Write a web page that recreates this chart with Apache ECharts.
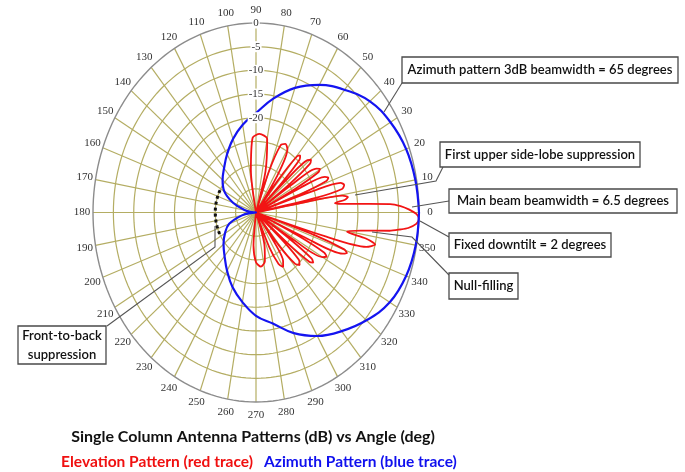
<!DOCTYPE html>
<html>
<head>
<meta charset="utf-8">
<script src="https://cdn.jsdelivr.net/npm/echarts@6/dist/echarts.min.js"></script>
<style>
  html, body { margin: 0; padding: 0; background: #ffffff; }
  #chart { width: 685px; height: 472px; }
</style>
</head>
<body>
<div id="chart"></div>
<script>
// ---- polar frame ----
const angleTicks = [0, 10, 20, 30, 40, 50, 60, 70, 80, 90, 100, 110, 120, 130, 140, 150, 160, 170,
                    180, 190, 200, 210, 220, 230, 240, 250, 260, 270, 280, 290, 300, 310, 320, 330, 340, 350];
const ringLevels = [-35, -30, -25, -20, -15, -10, -5];
const outerLevel = 0;
const floorLevel = -40;
const radialLabels = [0, -5, -10, -15, -20];

// ---- azimuth pattern (dB) ----
const azAngles = [0, 10, 20, 30, 40, 50, 60, 70, 80, 90, 100, 110, 120, 130, 140, 150, 160, 170, 175,
                  180, 185, 190, 200, 210, 220, 230, 240, 250, 260, 270, 280, 290, 300, 310, 320, 330, 340, 350, 360];
const azGain = [0, -0.3, -0.8, -1.9, -3.5, -6.2, -8.9, -12.0, -15.6, -19.0, -21.2, -23.5, -25.8, -27.8, -29.3, -31.0, -34.0, -37.3, -39.0,
                -40, -39.0, -36.5, -33.0, -31.2, -29.6, -28.0, -25.8, -23.2, -20.8, -18.2, -16.2, -12.9, -9.9, -7.3, -4.6, -2.1, -0.8, -0.2, 0];

// ---- elevation pattern (dB) ----
const elAngles = [-100, -95, -90, -84, -78, -73, -69,
                  -66, -63, -60, -57, -54.5, -53,
                  -51, -48.5, -46, -43.5, -42, -41,
                  -40, -38.5, -37, -35.5, -34, -33,
                  -32, -30, -28.4, -26.8, -25.3, -24.5,
                  -23.7, -22.2, -21, -19.8, -18.4, -17.5,
                  -16.5, -15, -13, -11.5, -10.3,
                  -8.5, -6.7, -5.8, -5, -3.5, -2, -0.5, 1, 2.2, 3.1, 4, 5, 5.8,
                  7, 8.2, 9.5, 10.3, 11,
                  11.8, 13.2, 15, 16.8, 18, 18.7,
                  19.5, 21, 22.5, 24, 25.6, 26.5,
                  27.5, 29, 30.5, 32, 33.8, 35,
                  36, 37.8, 39.5, 41.2, 42.8, 43.8,
                  44.8, 46.3, 48, 49.7, 51.5, 53,
                  56, 60, 63.5, 67, 70, 72,
                  75, 80, 87, 93, 98, 100];
const elGain = [-40, -33, -29.5, -28.5, -29.5, -33, -40,
                -32, -27.8, -26.7, -27.8, -32, -40,
                -31, -25.5, -24.6, -25.5, -31, -40,
                -30, -23.2, -22.4, -23.2, -30, -40,
                -29, -21.2, -20.3, -21.2, -29, -40,
                -27, -17, -16.1, -17, -25, -40,
                -22, -12, -10, -12.5, -17.3,
                -14, -7, -4.5, -2.5, -0.6, 0, -0.6, -2.5, -4.5, -7, -14, -19, -20.5,
                -18, -17.2, -18.5, -25, -40,
                -25, -18.3, -17.6, -18.3, -25, -40,
                -28, -21.5, -20.8, -21.5, -28, -40,
                -29, -22.5, -21.8, -22.5, -29, -40,
                -30, -23.2, -22.5, -23.2, -30, -40,
                -31, -24.5, -23.8, -24.5, -31, -40,
                -31, -24.6, -23.8, -24.6, -31, -40,
                -31, -24.2, -23.4, -24.2, -31, -40];

// front-to-back marker arc
const fbArc = { from: 152, to: 207, level: -30 };

const gridColor = '#b4ad63';
const frameColor = '#8c8c8c';

// polar (angle in degrees, gain in dB) -> plane coordinates on the value axes
function toXY(angleDeg, dB) {
  const r = Math.max(0, dB - floorLevel);
  const t = angleDeg * Math.PI / 180;
  return [r * Math.cos(t), r * Math.sin(t)];
}

function ringRender(color, width) {
  return function (params, api) {
    const level = api.value(0);
    const pts = [];
    for (let a = 0; a <= 360; a += 2) pts.push(api.coord(toXY(a, level)));
    return { type: 'polyline', shape: { points: pts }, style: { stroke: color, lineWidth: width, fill: null } };
  };
}

const arcPts = [];
for (let a = fbArc.from; a <= fbArc.to; a += 1) arcPts.push(toXY(a, fbArc.level));

const chart = echarts.init(document.getElementById('chart'), null, { renderer: 'canvas' });

const labelFont = '"Liberation Serif", "DejaVu Serif", serif';
const noteFont = 'Lato, "Open Sans", sans-serif';

function noteBox(x, y, w, h, lines, fontSize) {
  const els = [{
    type: 'rect', shape: { x: x, y: y, width: w, height: h },
    style: { fill: '#ffffff', stroke: '#4a4a4a', lineWidth: 1.3 }, z: 20
  }];
  const lh = h / lines.length;
  lines.forEach(function (t, i) {
    els.push({
      type: 'text', x: x + w / 2, y: y + lh * (i + 0.5), z: 21,
      style: { text: t, fill: '#111', font: '600 ' + fontSize + 'px ' + noteFont, align: 'center', verticalAlign: 'middle' }
    });
  });
  return els;
}

function leader(points) {
  return { type: 'polyline', shape: { points: points }, style: { stroke: '#555', lineWidth: 1.1, fill: null }, z: 19 };
}

const graphics = [].concat(
  noteBox(402, 57, 276, 26, ['Azimuth pattern 3dB beamwidth = 65 degrees'], 13),
  noteBox(440, 142, 200, 25, ['First upper side-lobe suppression'], 13),
  noteBox(449, 189, 228, 24, ['Main beam beamwidth = 6.5 degrees'], 13),
  noteBox(449, 233, 162, 24, ['Fixed downtilt = 2 degrees'], 13),
  noteBox(449, 273, 69, 26, ['Null-filling'], 13),
  noteBox(18, 326, 88, 38, ['Front-to-back', 'suppression'], 13),
  [
    leader([[402, 83], [384, 112]]),
    leader([[443, 167], [436, 181], [355, 195]]),
    leader([[449, 201], [412, 207]]),
    leader([[420, 221], [449, 237]]),
    leader([[372, 232], [412, 237], [449, 275]]),
    leader([[215, 226], [215, 247], [107, 326]]),
    {
      type: 'text', x: 253, y: 437, z: 21,
      style: { text: 'Single Column Antenna Patterns (dB) vs Angle (deg)', fill: '#111',
               font: 'bold 16px ' + noteFont, align: 'center', verticalAlign: 'middle' }
    },
    {
      type: 'text', x: 253, y: 462, z: 21,
      style: { text: 'Elevation Pattern (red trace)', fill: '#f01010',
               font: 'bold 15.5px ' + noteFont, align: 'right', verticalAlign: 'middle' }
    },
    {
      type: 'text', x: 264, y: 462, z: 21,
      style: { text: 'Azimuth Pattern (blue trace)', fill: '#1010ee',
               font: 'bold 15.5px ' + noteFont, align: 'left', verticalAlign: 'middle' }
    }
  ]
);

chart.setOption({
  animation: false,
  backgroundColor: '#ffffff',
  grid: { left: 93, top: 23, width: 326, height: 379 },
  xAxis: { type: 'value', min: -40, max: 40, show: false },
  yAxis: { type: 'value', min: -40, max: 40, show: false },
  graphic: graphics,
  series: [
    {
      // dB rings
      type: 'custom', z: 1, silent: true,
      data: ringLevels.map(function (l) { return [l, 0]; }),
      renderItem: ringRender(gridColor, 1.2)
    },
    {
      // angle spokes
      type: 'custom', z: 1, silent: true,
      data: angleTicks.map(function (a) { return [a, 0]; }),
      renderItem: function (params, api) {
        const a = api.value(0);
        const p0 = api.coord(toXY(0, floorLevel));
        const p1 = api.coord(toXY(a, outerLevel));
        return { type: 'line', shape: { x1: p0[0], y1: p0[1], x2: p1[0], y2: p1[1] },
                 style: { stroke: gridColor, lineWidth: 1.2 } };
      }
    },
    {
      // outer 0 dB circle
      type: 'custom', z: 2, silent: true,
      data: [[outerLevel, 0]],
      renderItem: ringRender(frameColor, 1.4)
    },
    {
      name: 'Elevation', type: 'line', z: 3, silent: true,
      data: elAngles.map(function (a, i) { return toXY(a, elGain[i]); }),
      showSymbol: false, smooth: 0.25, clip: false,
      lineStyle: { color: '#f21414', width: 1.8 }
    },
    {
      name: 'Azimuth', type: 'line', z: 4, silent: true,
      data: azAngles.map(function (a, i) { return toXY(a, azGain[i]); }),
      showSymbol: false, smooth: 0.4, clip: false,
      lineStyle: { color: '#1414f0', width: 2.2 }
    },
    {
      name: 'Front-to-back', type: 'line', z: 4, silent: true,
      data: arcPts, showSymbol: false, clip: false,
      lineStyle: { color: '#111', width: 3, type: [3, 3] }
    },
    {
      // dB labels along the 90 degree spoke
      type: 'custom', z: 6, silent: true,
      data: radialLabels.map(function (l) { return [l, 0]; }),
      renderItem: function (params, api) {
        const l = api.value(0);
        const p = api.coord(toXY(90, l));
        return { type: 'text', x: p[0], y: p[1],
                 style: { text: String(l), fill: '#333', fontSize: 11, fontFamily: labelFont,
                          align: 'center', verticalAlign: 'middle', backgroundColor: '#ffffff', padding: [0, 1] } };
      }
    },
    {
      // angle labels outside the frame
      type: 'custom', z: 6, silent: true,
      data: angleTicks.map(function (a) { return [a, 0]; }),
      renderItem: function (params, api) {
        const a = api.value(0);
        const p = api.coord(toXY(a, 2.7));
        return { type: 'text', x: p[0], y: p[1],
                 style: { text: String(a), fill: '#333', fontSize: 11, fontFamily: labelFont,
                          align: 'center', verticalAlign: 'middle' } };
      }
    }
  ]
});
</script>
</body>
</html>
